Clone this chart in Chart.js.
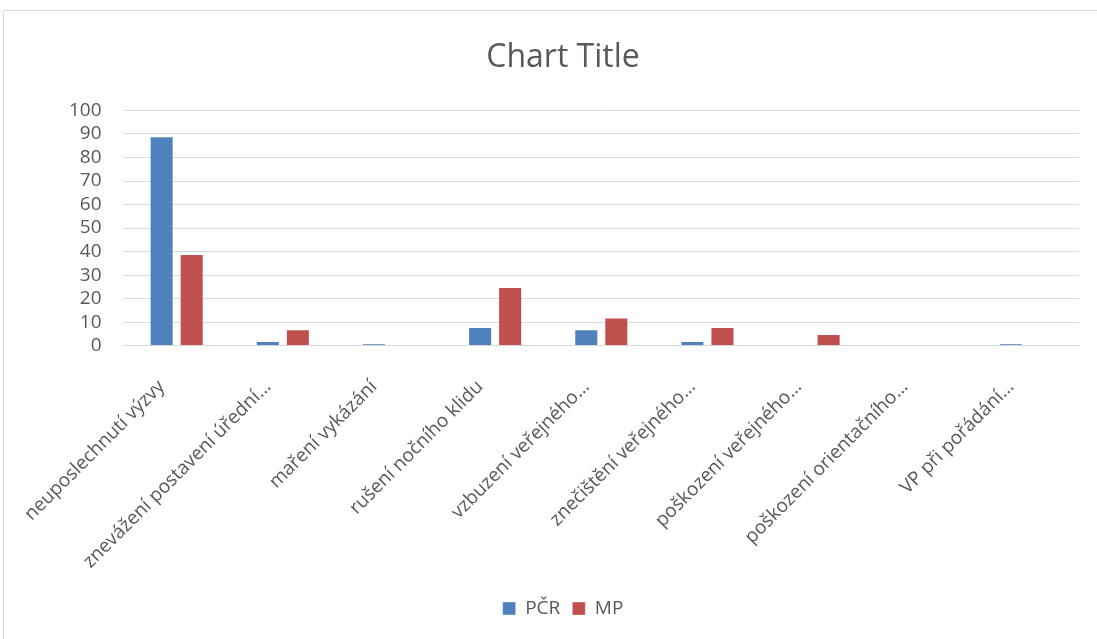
<!DOCTYPE html>
<html>
<head>
<meta charset="utf-8">
<script src="https://cdn.jsdelivr.net/npm/chart.js@4/dist/chart.umd.min.js"></script>
<style>
  html, body { margin: 0; padding: 0; background: #fff; overflow: hidden; }
  #frame { position: absolute; left: 3px; top: 10px; width: 1110px; height: 660px; border: 1px solid #d9d9d9; box-sizing: border-box; }
  #wrap { position: absolute; left: 0; top: 0; width: 1097px; height: 639px; }
</style>
</head>
<body>
<div id="frame"></div>
<div id="wrap"><canvas id="c" width="1097" height="639"></canvas></div>
<script>
const categories = [
  "neuposlechnutí výzvy",
  "znevážení postavení úřední…",
  "maření vykázání",
  "rušení nočního klidu",
  "vzbuzení veřejného…",
  "znečištění veřejného…",
  "poškození veřejného…",
  "poškození orientačního…",
  "VP při pořádání…"
];
const seriesNames = ["PČR", "MP"];
const pcrValues = [89, 2, 1, 8, 7, 2, 0, 0, 1];
const mpValues = [39, 7, 0, 25, 12, 8, 5, 0, 0];
const yTicks = [0, 10, 20, 30, 40, 50, 60, 70, 80, 90, 100];

const FONT = "'Open Sans', 'Noto Sans', sans-serif";
const textColor = "#595959";

new Chart(document.getElementById("c"), {
  type: "bar",
  data: {
    labels: categories,
    datasets: [
      { label: seriesNames[0], data: pcrValues, backgroundColor: "#4f81bd", borderColor: "rgba(255,255,255,0.35)", borderWidth: 1, categoryPercentage: 0.566, barPercentage: 0.8 },
      { label: seriesNames[1], data: mpValues, backgroundColor: "#c0504d", borderColor: "rgba(255,255,255,0.35)", borderWidth: 1, categoryPercentage: 0.566, barPercentage: 0.8 }
    ]
  },
  options: {
    responsive: false,
    animation: false,
    layout: { padding: { left: 47, right: 18, top: 10, bottom: 11 } },
    plugins: {
      title: {
        display: true, text: "Chart Title", color: textColor,
        font: { family: FONT, size: 32, weight: "normal" },
        padding: { top: 29, bottom: 33 }
      },
      legend: {
        position: "bottom",
        labels: {
          color: textColor, font: { family: FONT, size: 19 },
          boxWidth: 13, boxHeight: 13, padding: 12
        }
      },
      tooltip: { enabled: false }
    },
    scales: {
      x: {
        grid: { display: false, drawTicks: false },
        border: { color: "#d9d9d9", width: 1 },
        afterFit: (s) => { s.height -= 16; },
        ticks: {
          color: textColor, font: { family: FONT, size: 19 },
          maxRotation: 45, minRotation: 45, autoSkip: false, padding: 30, labelOffset: -15
        }
      },
      y: {
        min: 0, max: 100,
        afterBuildTicks: (axis) => { axis.ticks = yTicks.map(v => ({ value: v })); },
        grid: { color: "#d9d9d9", lineWidth: 1, drawTicks: false },
        border: { display: false },
        ticks: { color: textColor, font: { family: FONT, size: 19 }, padding: 22, autoSkip: false }
      }
    }
  }
});
</script>
</body>
</html>
